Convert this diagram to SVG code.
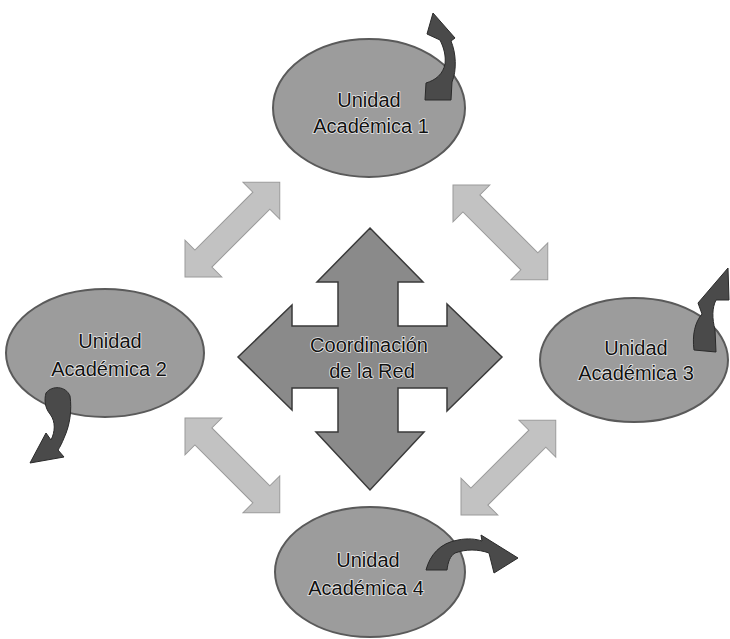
<svg xmlns="http://www.w3.org/2000/svg" width="730" height="639" viewBox="0 0 730 639">
<defs>
<style>
.ell{fill:#9c9c9c;stroke:#5a5a5a;stroke-width:2}
.curl{fill:#4a4a4a;stroke:#2a2a2a;stroke-width:1}
.diag{fill:#c2c2c2;stroke:#9a9a9a;stroke-width:1}
.cross{fill:#8a8a8a;stroke:#3a3a3a;stroke-width:1.5}
.lbl{font-family:"Liberation Sans",Arial,sans-serif;font-size:20px;fill:#111111;stroke:#e8e8e8;stroke-width:1.6;paint-order:stroke;text-anchor:middle}
</style>
<path id="dbl" d="M0,0 L26,-26 L26,-12 L108,-12 L108,-26 L134,0 L108,26 L108,12 L26,12 L26,26 Z"/>
</defs>
<rect width="730" height="639" fill="#ffffff"/>
<g id="connectors">
<use href="#dbl" class="diag" transform="translate(185,277) rotate(-45)"/>
<use href="#dbl" class="diag" transform="translate(453,185) rotate(45)"/>
<use href="#dbl" class="diag" transform="translate(185,418) rotate(45)"/>
<use href="#dbl" class="diag" transform="translate(461,515) rotate(-45)"/>
</g>
<g id="coordinacion">
<path class="cross" d="M370,228 L423,282 L398,282 L398,326 L447,326 L447,304 L502,357 L447,411 L447,388 L398,388 L398,432 L424,432 L370,490 L316,432 L338,432 L338,388 L292,388 L292,410 L238,357 L292,305 L292,326 L338,326 L338,282 L317,282 Z"/>
<text class="lbl" x="369" y="352">Coordinación</text>
<text class="lbl" x="372" y="378">de la Red</text>
</g>
<g id="unidad1">
<ellipse class="ell" cx="369" cy="108" rx="96" ry="69"/>
<path class="curl" d="M425,100 L426,83 C436,80 443,74 445,64 C446,56 444,48 440,40 L427,34 L433,13 L455,38 L451,41 C456,53 457,70 452,82 L451,100 Z"/>
<text class="lbl" x="369" y="107">Unidad</text>
<text class="lbl" x="371" y="133">Académica 1</text>
</g>
<g id="unidad2">
<ellipse class="ell" cx="105" cy="353" rx="99" ry="64"/>
<path class="curl" d="M46,393 C52,385 66,386 70,396 C72,410 70,425 64,438 C62,443 60,447 58,450 L64,457 L30,463 L46,433 L51,440 C55,432 56,422 50,414 C45,408 44,400 46,393 Z"/>
<text class="lbl" x="110" y="348">Unidad</text>
<text class="lbl" x="109" y="376">Académica 2</text>
</g>
<g id="unidad3">
<ellipse class="ell" cx="634" cy="360" rx="94" ry="62"/>
<path class="curl" d="M694,350 C692,335 695,322 702,314 L698,303 L728,268 L729,300 L716,300 C712,308 712,318 715,330 L716,352 Z"/>
<text class="lbl" x="636" y="355">Unidad</text>
<text class="lbl" x="636" y="380">Académica 3</text>
</g>
<g id="unidad4">
<ellipse class="ell" cx="370" cy="572" rx="95" ry="65"/>
<path class="curl" d="M426,570 C430,555 440,543 458,540 C468,538 476,539 482,541 L481,535 L518,558 L494,573 L489,553 C478,549 466,549 455,553 C450,556 448,562 447,570 Z"/>
<text class="lbl" x="368" y="567">Unidad</text>
<text class="lbl" x="366" y="595">Académica 4</text>
</g>
</svg>
